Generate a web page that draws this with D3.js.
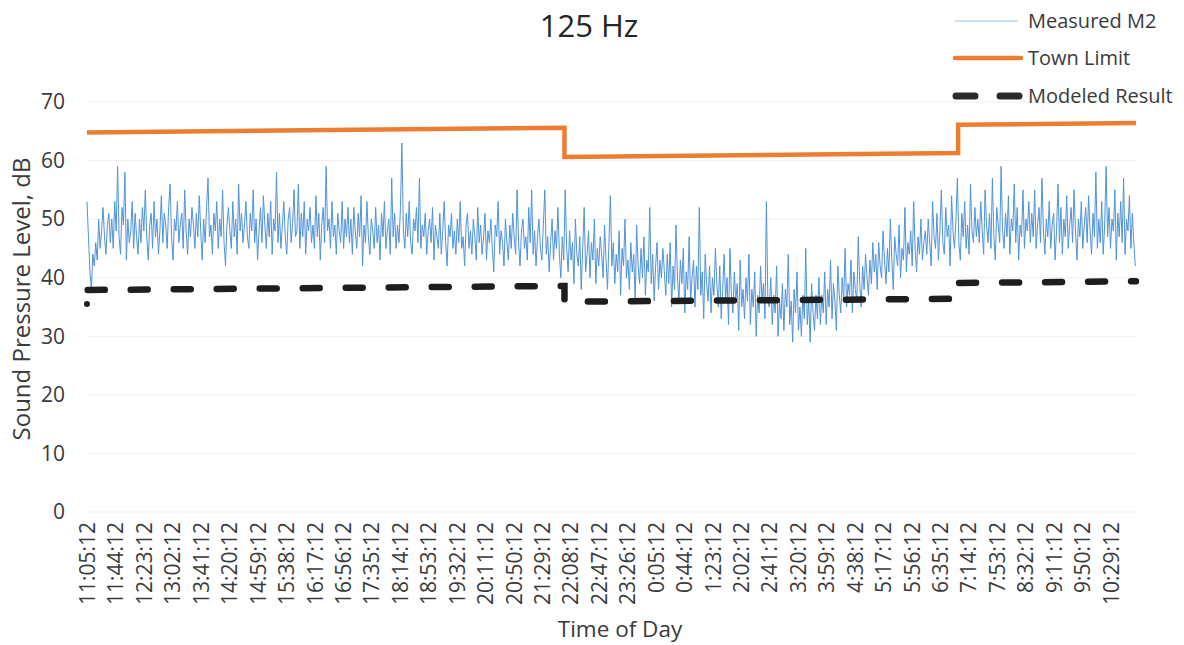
<!DOCTYPE html>
<html>
<head>
<meta charset="utf-8">
<script src="https://cdn.jsdelivr.net/npm/d3@7"></script>
<style>
  html, body { margin: 0; padding: 0; background: #fff; }
  svg { display: block; font-family: "Open Sans", sans-serif; }
</style>
</head>
<body>
<svg id="chart" width="1184" height="645"></svg>
<script>
// ---- Data ----
const timeLabels = ["11:05:12","11:44:12","12:23:12","13:02:12","13:41:12","14:20:12","14:59:12","15:38:12","16:17:12","16:56:12","17:35:12","18:14:12","18:53:12","19:32:12","20:11:12","20:50:12","21:29:12","22:08:12","22:47:12","23:26:12","0:05:12","0:44:12","1:23:12","2:02:12","2:41:12","3:20:12","3:59:12","4:38:12","5:17:12","5:56:12","6:35:12","7:14:12","7:53:12","8:32:12","9:11:12","9:50:12","10:29:12"];
const labelStep = 39;          // minutes between category labels
const totalMinutes = 1440;     // one reading per minute, 24 h
const measuredStep = 2;        // minutes between the estimated samples below

// Measured M2, dB (estimated every 2 minutes from 11:05:12; one row = 72 minutes)
const measuredM2 = [
  53,47,41,38,44,42,46,43,50,45,48,52,47,44,49,51,46,50,45,53,48,59,47,44,52,49,58,43,50,46,48,53,45,51,47,44,
  50,46,52,48,55,47,43,49,51,45,53,47,50,44,48,54,46,51,49,45,52,56,47,43,50,48,53,46,49,51,45,55,48,44,50,47,
  52,49,45,51,47,54,48,43,50,46,52,57,47,49,44,51,48,53,45,50,47,55,46,42,49,52,48,45,53,47,50,44,56,48,51,46,
  49,53,47,45,51,48,55,46,50,43,48,52,46,54,49,45,51,47,53,44,50,48,58,46,51,45,49,53,47,44,50,52,46,49,55,47,
  48,56,45,51,47,53,44,50,48,52,46,49,45,54,47,51,43,49,52,46,59,48,50,45,53,47,49,44,51,48,46,53,45,50,47,52,
  46,50,44,52,48,45,51,47,54,42,49,46,53,47,44,50,48,45,52,46,49,43,51,47,53,45,48,50,44,57,47,51,45,49,46,52,
  63,48,45,51,47,53,46,44,50,48,52,46,57,45,49,47,51,44,48,50,46,52,43,49,47,45,51,44,48,53,46,42,49,47,51,45,
  48,44,50,46,53,45,47,42,49,51,45,48,44,50,47,43,52,46,49,44,47,51,43,48,46,50,45,41,49,47,53,44,48,46,42,50,
  46,43,49,45,51,47,44,55,46,42,48,50,45,47,43,52,46,55,44,48,42,47,50,45,43,49,55,44,47,41,46,50,43,48,45,52,
  44,40,47,43,55,45,41,48,43,46,39,50,44,42,47,38,45,52,41,44,48,40,46,43,50,39,45,42,47,44,40,49,43,38,46,54,
  42,46,39,44,41,48,37,45,42,50,40,43,38,46,41,44,36,49,42,39,45,40,47,37,43,41,52,39,44,36,42,46,38,43,40,45,
  41,37,44,39,46,35,42,38,49,40,36,43,39,45,34,41,38,47,36,40,43,35,42,38,52,37,41,33,44,39,36,42,34,40,37,45,
  39,35,42,33,38,44,36,40,32,45,37,34,41,36,39,31,43,35,38,33,40,36,44,32,38,35,41,30,37,34,42,36,39,33,53,36,
  35,40,32,37,34,42,30,36,33,39,31,38,35,44,32,36,29,38,34,41,31,35,30,37,33,45,32,36,29,39,34,31,37,33,40,32,
  37,34,41,32,38,35,43,33,39,36,31,42,37,34,40,36,45,35,39,37,43,34,41,38,36,47,39,35,42,38,44,40,37,43,39,46,
  41,44,38,46,42,40,48,43,39,45,41,50,43,38,47,44,42,49,40,45,43,52,41,46,44,48,42,53,45,41,47,44,50,43,46,48,
  44,50,46,42,53,47,45,51,43,48,55,46,44,52,47,49,42,54,48,45,50,57,46,43,51,47,53,45,49,44,56,48,46,52,47,50,
  46,53,48,44,55,49,46,51,45,57,47,43,52,49,46,59,48,45,51,47,54,44,50,48,56,46,52,43,49,47,55,45,50,48,53,46,
  51,47,55,45,49,52,46,57,48,44,50,47,53,45,49,51,43,48,56,46,52,44,50,47,54,45,49,52,46,55,48,43,50,47,53,45,
  49,52,46,54,48,44,51,47,58,45,50,46,53,44,49,59,47,52,45,50,48,55,43,51,47,53,46,57,44,50,48,54,45,51,46,42
];

// Town Limit: [minute index, dB] at the segment ends
const townLimitMinutes = [0, 655, 655, 1195, 1195, 1439];
const townLimitValues  = [64.8, 65.6, 60.6, 61.3, 66.1, 66.4];

// Modeled Result: first reading, then [minute index, dB] at the segment ends
const modeledMinutes = [0, 1, 655, 655, 1195, 1195, 1439];
const modeledValues  = [35.5, 37.9, 38.6, 35.9, 36.4, 39.1, 39.4];

const yTicks = [0, 10, 20, 30, 40, 50, 60, 70];

// ---- Layout ----
const svg = d3.select("#chart");
const plot = { left: 87, right: 1136, top: 102, bottom: 512 };
const textColor = "#3a3a3a";

const x = d3.scaleLinear().domain([0, totalMinutes - 1]).range([plot.left, plot.right]);
const y = d3.scaleLinear().domain([0, 70]).range([plot.bottom, plot.top]);

// Gridlines
svg.append("g").selectAll("line").data(yTicks).join("line")
  .attr("x1", plot.left).attr("x2", plot.right)
  .attr("y1", d => y(d)).attr("y2", d => y(d))
  .attr("stroke", "#efefef").attr("stroke-width", 1);

// Y axis
const yAxis = svg.append("g")
  .attr("transform", `translate(${plot.left - 22},0)`)
  .call(d3.axisLeft(y).tickValues(yTicks).tickSize(0).tickPadding(0));
yAxis.select(".domain").remove();
yAxis.selectAll("text").attr("font-size", 21).attr("fill", textColor)
  .attr("font-family", "Open Sans, sans-serif");

// X axis (category labels)
const xAxis = svg.append("g")
  .attr("transform", `translate(0,${plot.bottom + 10})`)
  .call(d3.axisBottom(x)
    .tickValues(timeLabels.map((_, i) => i * labelStep))
    .tickFormat((d, i) => timeLabels[i])
    .tickSize(0).tickPadding(0));
xAxis.select(".domain").remove();
xAxis.selectAll("text")
  .attr("font-size", 21).attr("fill", textColor)
  .attr("font-family", "Open Sans, sans-serif")
  .attr("text-anchor", "end")
  .attr("transform", "rotate(-90)")
  .attr("x", 0).attr("y", 0).attr("dy", "0.36em");

// Axis titles
svg.append("text")
  .attr("transform", `translate(22,${(plot.top + plot.bottom) / 2 - 8}) rotate(-90)`)
  .attr("text-anchor", "middle").attr("dy", "0.35em")
  .attr("font-size", 24).attr("fill", textColor)
  .text("Sound Pressure Level, dB");

svg.append("text")
  .attr("x", 620).attr("y", 629).attr("text-anchor", "middle").attr("dy", "0.35em")
  .attr("font-size", 22.5).attr("fill", textColor)
  .text("Time of Day");

// Title
svg.append("text")
  .attr("x", 589).attr("y", 26).attr("text-anchor", "middle").attr("dy", "0.35em")
  .attr("font-size", 31).attr("fill", "#262626")
  .text("125 Hz");

// ---- Series ----
const line = d3.line().x(d => x(d[0])).y(d => y(d[1]));

const measuredPts = measuredM2.map((v, i) => [i * measuredStep, v]);
svg.append("path").datum(measuredPts)
  .attr("d", line).attr("fill", "none")
  .attr("stroke", "#4f93d8").attr("stroke-width", 1)
  .attr("stroke-linejoin", "round");

const townPts = townLimitMinutes.map((m, i) => [m, townLimitValues[i]]);
svg.append("path").datum(townPts)
  .attr("d", line).attr("fill", "none")
  .attr("stroke", "#ed7d31").attr("stroke-width", 4.5);

const modeledPts = modeledMinutes.map((m, i) => [m, modeledValues[i]]);
svg.append("path").datum(modeledPts.slice(1))
  .attr("d", line).attr("fill", "none")
  .attr("stroke", "#1e1e1e").attr("stroke-width", 6.5)
  .attr("stroke-linecap", "round")
  .attr("stroke-dasharray", "17,26");
svg.append("circle")
  .attr("cx", x(modeledPts[0][0])).attr("cy", y(modeledPts[0][1]))
  .attr("r", 3).attr("fill", "#1e1e1e");

// ---- Legend ----
const legend = svg.append("g");
const legItems = [
  { name: "Measured M2", y: 21 },
  { name: "Town Limit", y: 58 },
  { name: "Modeled Result", y: 96 }
];
legend.append("line").attr("x1", 955).attr("x2", 1018).attr("y1", legItems[0].y).attr("y2", legItems[0].y)
  .attr("stroke", "#9cc3ea").attr("stroke-width", 1.2);
legend.append("line").attr("x1", 955).attr("x2", 1021).attr("y1", legItems[1].y).attr("y2", legItems[1].y)
  .attr("stroke", "#ed7d31").attr("stroke-width", 4.5).attr("stroke-linecap", "round");
legend.append("line").attr("x1", 956).attr("x2", 1020).attr("y1", legItems[2].y).attr("y2", legItems[2].y)
  .attr("stroke", "#2b2b2b").attr("stroke-width", 7).attr("stroke-linecap", "round")
  .attr("stroke-dasharray", "19,25");
legend.selectAll("text").data(legItems).join("text")
  .attr("x", 1028).attr("y", d => d.y).attr("dy", "0.35em")
  .attr("font-size", 20).attr("fill", textColor)
  .text(d => d.name);
</script>
</body>
</html>
